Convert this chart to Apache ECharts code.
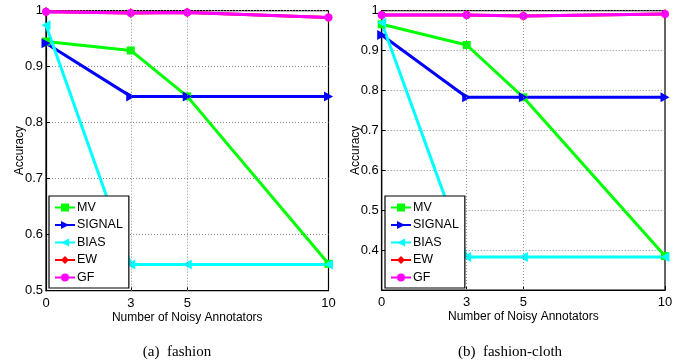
<!DOCTYPE html>
<html>
<head>
<meta charset="utf-8">
<script src="https://cdn.jsdelivr.net/npm/echarts@6/dist/echarts.min.js"></script>
<style>
html,body{margin:0;padding:0;background:#fff;}
#c{width:692px;height:362px;}
</style>
</head>
<body>
<div id="c"></div>
<script>
// ---- data ----
const xValues = [0, 3, 5, 10];
const seriesNames = ['MV', 'SIGNAL', 'BIAS', 'EW', 'GF'];
const captions = ['(a)  fashion', '(b)  fashion-cloth'];
const xAxisTitle = 'Number of Noisy Annotators';
const yAxisTitle = 'Accuracy';

const fashionMV     = [0.945, 0.929, 0.847, 0.548];
const fashionSIGNAL = [0.942, 0.847, 0.847, 0.847];
const fashionBIAS   = [0.974, 0.547, 0.547, 0.547];
const fashionEW     = [0.998, 0.996, 0.997, 0.988];
const fashionGF     = [0.998, 0.996, 0.997, 0.988];

const clothMV     = [0.966, 0.914, 0.783, 0.385];
const clothSIGNAL = [0.939, 0.783, 0.783, 0.783];
const clothBIAS   = [0.970, 0.383, 0.383, 0.383];
const clothEW     = [0.989, 0.989, 0.987, 0.992];
const clothGF     = [0.989, 0.989, 0.987, 0.992];

const yRanges = [[0.5, 1], [0.3, 1]];

// ---- styles ----
const colors = {MV:'#00ff00', SIGNAL:'#0000ff', BIAS:'#00ffff', EW:'#ff0000', GF:'#ff00ff'};
const symbols = {
  MV: 'rect',
  SIGNAL: 'path://M0,0 L10,5 L0,10 Z',
  BIAS: 'path://M10,0 L0,5 L10,10 Z',
  EW: 'diamond',
  GF: 'circle'
};
const symbolSizes = {MV: 8, SIGNAL: [9, 10], BIAS: [9, 10], EW: [8, 10], GF: 8};

const sans = 'Liberation Sans, Arial, sans-serif';
const serif = 'Liberation Serif, Times New Roman, serif';

const datasets = [
  {MV: fashionMV, SIGNAL: fashionSIGNAL, BIAS: fashionBIAS, EW: fashionEW, GF: fashionGF},
  {MV: clothMV, SIGNAL: clothSIGNAL, BIAS: clothBIAS, EW: clothEW, GF: clothGF}
];

const grids = [
  {left: 46, top: 10.7, width: 282.5, height: 280},
  {left: 381.7, top: 10.7, width: 283.3, height: 279.3}
];

const chart = echarts.init(document.getElementById('c'), null, {renderer: 'canvas'});

const gridLineStyle = {color: '#8c8c8c', type: [1, 2], width: 1};

const option = {
  animation: false,
  backgroundColor: '#fff',
  grid: grids.map(g => Object.assign({show: true, borderColor: '#000', borderWidth: 1.2, backgroundColor: 'transparent'}, g)),
  xAxis: grids.map((g, i) => ({
    type: 'value', gridIndex: i, min: 0, max: 10,
    name: xAxisTitle, nameLocation: 'middle', nameGap: 21, nameMoveOverlap: false,
    nameTextStyle: {fontFamily: sans, fontSize: 12, color: '#000'},
    axisLine: {show: true, lineStyle: {color: '#000', width: 1.2}},
    axisTick: {show: true, inside: true, length: 4, customValues: xValues, lineStyle: {color: '#000'}},
    axisLabel: {customValues: xValues, fontFamily: sans, fontSize: 13, color: '#000', margin: 6},
    splitLine: {show: false}
  })),
  yAxis: grids.map((g, i) => ({
    type: 'value', gridIndex: i, min: yRanges[i][0], max: yRanges[i][1], interval: 0.1,
    name: yAxisTitle, nameLocation: 'middle', nameGap: 20, nameRotate: 90, nameMoveOverlap: false,
    nameTextStyle: {fontFamily: sans, fontSize: 12, color: '#000'},
    axisLine: {show: true, lineStyle: {color: '#000', width: 1.2}},
    axisTick: {show: true, inside: true, length: 4, lineStyle: {color: '#000'}},
    axisLabel: {
      fontFamily: sans, fontSize: 13, color: '#000', margin: 3,
      showMinLabel: i === 0,
      formatter: v => String(+v.toFixed(1))
    },
    splitLine: {show: true, lineStyle: gridLineStyle}
  })),
  legend: grids.map((g, i) => ({
    orient: 'vertical',
    left: i === 0 ? 49 : 385,
    top: 196,
    data: seriesNames,
    itemWidth: 20, itemHeight: 10, itemGap: 4.5,
    padding: [5, 6, 4, 5],
    borderColor: '#000', borderWidth: 1.2, backgroundColor: '#fff',
    textStyle: {fontFamily: sans, fontSize: 12.5, color: '#000', padding: [0, 0, 0, -3]},
    selectedMode: false
  })),
  title: captions.map((t, i) => ({
    text: t,
    left: i === 0 ? 172 : 505,
    top: 340,
    textAlign: 'center',
    textStyle: {fontFamily: serif, fontSize: 15, fontWeight: 'normal', color: '#000'}
  })),
  series: []
};

datasets.forEach((ds, i) => {
  // vertical dotted grid lines at the labelled x positions
  option.series.push({
    name: 'grid' + i, type: 'line', xAxisIndex: i, yAxisIndex: i, data: [], z: 1,
    markLine: {
      silent: true, symbol: 'none', label: {show: false},
      lineStyle: gridLineStyle,
      data: xValues.filter((v, k) => k > 0 && k < xValues.length - 1).map(v => ({xAxis: v}))
    }
  });
  seriesNames.forEach(n => {
    option.series.push({
      name: n, type: 'line', xAxisIndex: i, yAxisIndex: i, z: 3,
      data: xValues.map((x, k) => [x, ds[n][k]]),
      symbol: symbols[n], symbolSize: symbolSizes[n], showSymbol: true,
      lineStyle: {color: colors[n], width: 3},
      itemStyle: {color: colors[n]},
      emphasis: {disabled: true}
    });
  });
});

chart.setOption(option);
</script>
</body>
</html>
